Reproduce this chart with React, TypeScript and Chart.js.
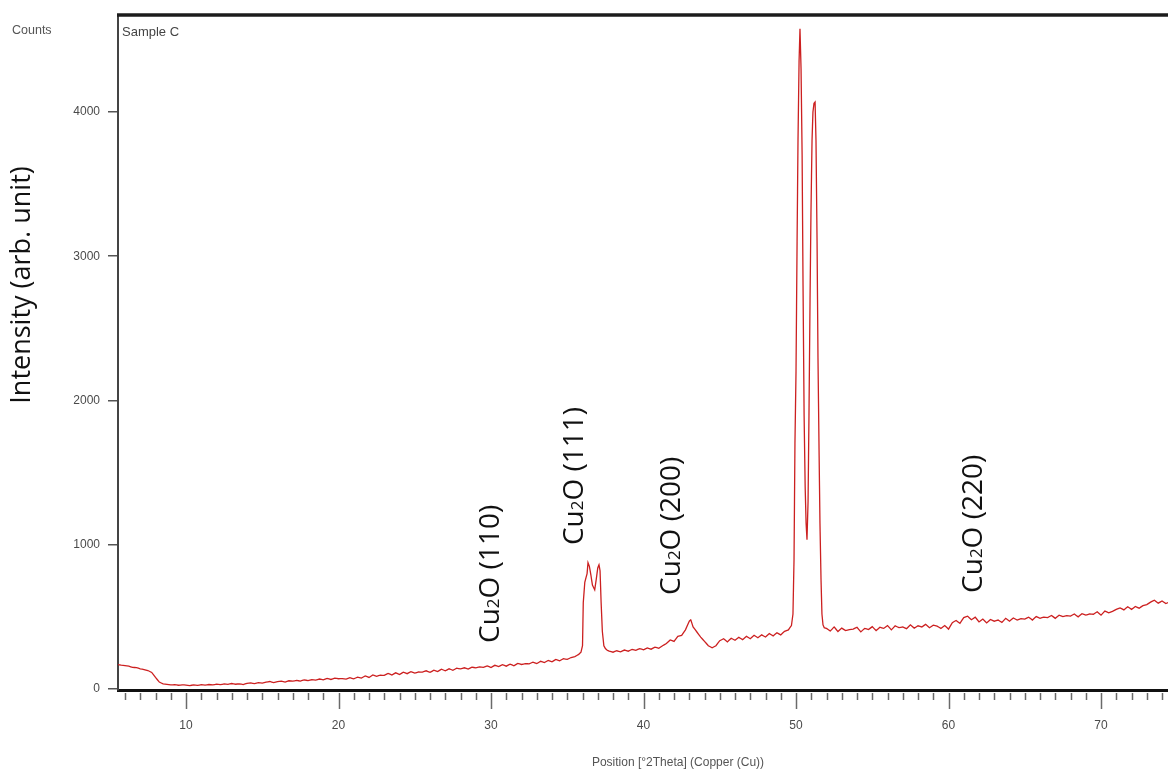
import React, { useEffect, useRef } from "react";
import { Chart, registerables } from "chart.js";

Chart.register(...registerables);

// 2θ positions (degrees)
const twoTheta: number[] = [
  5.5, 5.75, 6.0, 6.25, 6.5, 6.75, 7.0, 7.25, 7.5, 7.75, 8.0, 8.25, 8.5,
  8.75, 9.0, 9.25, 9.5, 9.75, 10.0, 10.25, 10.5, 10.75, 11.0, 11.25, 11.5, 11.75, 12.0, 12.25, 12.5, 12.75, 13.0, 13.25, 13.5, 13.75, 14.0, 14.25, 14.5, 14.75, 15.0,
  15.25, 15.5, 15.75, 16.0, 16.25, 16.5, 16.75, 17.0, 17.25, 17.5, 17.75, 18.0, 18.25, 18.5, 18.75, 19.0, 19.25, 19.5, 19.75, 20.0, 20.25, 20.5, 20.75, 21.0, 21.25, 21.5,
  21.75, 22.0, 22.25, 22.5, 22.75, 23.0, 23.25, 23.5, 23.75, 24.0, 24.25, 24.5, 24.75, 25.0, 25.25, 25.5, 25.75, 26.0, 26.25, 26.5, 26.75, 27.0, 27.25, 27.5, 27.75, 28.0,
  28.25, 28.5, 28.75, 29.0, 29.25, 29.5, 29.75, 30.0, 30.25, 30.5, 30.75, 31.0, 31.25, 31.5, 31.75, 32.0, 32.25, 32.5, 32.75, 33.0, 33.25, 33.5, 33.75, 34.0, 34.25, 34.5,
  34.75, 35.0, 35.25, 35.5, 35.75, 35.9, 36.0, 36.05, 36.15, 36.3, 36.36, 36.45, 36.55, 36.65, 36.8, 36.9, 37.0, 37.08, 37.15, 37.22, 37.3, 37.4, 37.5, 37.6, 37.75,
  38.0, 38.25, 38.5, 38.75, 39.0, 39.25, 39.5, 39.75, 40.0, 40.25, 40.5, 40.75, 41.0, 41.25, 41.5, 41.75, 42.0, 42.25, 42.5, 42.75, 43.0, 43.1, 43.25, 43.5, 43.75, 44.0, 44.25, 44.5, 44.75,
  45.0, 45.25, 45.5, 45.75, 46.0, 46.25, 46.5, 46.75, 47.0, 47.25, 47.5, 47.75, 48.0, 48.25, 48.5, 48.75, 49.0, 49.25, 49.5, 49.7, 49.8,
  49.87, 49.93, 50.0, 50.07, 50.13, 50.2, 50.26, 50.33, 50.4, 50.46, 50.53, 50.6, 50.66, 50.72, 50.79, 50.85, 50.92, 50.98, 51.05, 51.11, 51.18, 51.25, 51.31, 51.38, 51.44, 51.51, 51.57, 51.64, 51.7, 51.77, 51.85,
  52.0, 52.25, 52.5, 52.75, 53.0, 53.25, 53.5, 53.75, 54.0, 54.25, 54.5, 54.75, 55.0, 55.25, 55.5, 55.75, 56.0, 56.25, 56.5, 56.75, 57.0, 57.25, 57.5, 57.75, 58.0, 58.25,
  58.5, 58.75, 59.0, 59.25, 59.5, 59.75, 60.0, 60.25, 60.5, 60.75, 61.0, 61.25, 61.5, 61.75, 62.0, 62.25, 62.5, 62.75, 63.0, 63.25, 63.5, 63.75, 64.0, 64.25, 64.5, 64.75,
  65.0, 65.25, 65.5, 65.75, 66.0, 66.25, 66.5, 66.75, 67.0, 67.25, 67.5, 67.75, 68.0, 68.25, 68.5, 68.75, 69.0, 69.25, 69.5, 69.75, 70.0, 70.25, 70.5, 70.75, 71.0, 71.25,
  71.5, 71.75, 72.0, 72.25, 72.5, 72.75, 73.0, 73.25, 73.5, 73.75, 74.0, 74.25, 74.5, 74.75,
];

// Counts
const counts: number[] = [
  170, 165, 162, 158, 150, 148, 140, 135, 128, 115, 80, 48, 35,
  32, 28, 30, 26, 29, 27, 24, 28, 25, 30, 27, 31, 28, 33, 30, 35, 32, 38, 33, 36, 31, 39, 42, 37, 44, 41,
  47, 52, 44, 51, 55, 48, 57, 54, 59, 55, 63, 58, 64, 62, 69, 63, 73, 66, 75, 71, 72, 68, 78, 70, 82, 76,
  90, 80, 97, 88, 96, 94, 108, 97, 112, 100, 116, 106, 120, 110, 118, 117, 126, 115, 130, 121, 137, 126, 140, 130, 144, 139,
  147, 138, 152, 146, 153, 150, 160, 149, 164, 155, 168, 158, 172, 161, 177, 170, 176, 174, 186, 176, 192, 183, 198, 188, 205, 195,
  210, 205, 218, 225, 240, 255, 300, 600, 740, 800, 875, 850, 790, 720, 688, 760, 840, 861, 820, 600, 400, 300, 280, 270, 262,
  255, 265, 258, 270, 262, 275, 268, 280, 272, 285, 276, 290, 282, 300, 315, 340, 330, 365, 372, 410, 470, 480, 430, 395, 360, 330, 300, 285, 300,
  335, 348, 326, 352, 338, 358, 342, 365, 348, 372, 355, 375, 360, 384, 368, 390, 375, 400, 410, 440, 520,
  900, 1700, 2200, 3100, 3800, 4350, 4576, 4300, 3700, 2800, 1900, 1400, 1150, 1035, 1300, 1900, 2700, 3300, 3800, 4000, 4060, 4069, 3800, 3100, 2300, 1660, 1150, 757, 520, 444, 425,
  420, 402, 430, 398, 422, 405, 412, 415, 428, 396, 420, 412, 432, 405, 428, 420, 440, 410, 438, 425, 430, 418, 445, 422, 438, 430,
  448, 425, 442, 436, 420, 440, 415, 460, 475, 455, 495, 505, 480, 498, 465, 485, 458, 482, 470, 478, 462, 490, 470, 492, 478, 488,
  485, 498, 478, 502, 490, 498, 495, 510, 490, 512, 502, 508, 505, 520, 500, 522, 512, 520, 518, 535, 512, 540, 528, 538, 552, 562,
  548, 570, 552, 572, 560, 578, 585, 602, 615, 595, 610, 592, 604, 598,
];

// Axis ticks
const xTickValues: number[] = [
  6, 7, 8, 9, 10, 11, 12, 13, 14, 15, 16, 17, 18, 19, 20, 21, 22, 23, 24, 25, 26, 27, 28, 29, 30,
  31, 32, 33, 34, 35, 36, 37, 38, 39, 40, 41, 42, 43, 44, 45, 46, 47, 48, 49, 50, 51, 52, 53, 54, 55,
  56, 57, 58, 59, 60, 61, 62, 63, 64, 65, 66, 67, 68, 69, 70, 71, 72, 73, 74, 75, 76,
];
const xLabelValues: number[] = [10, 20, 30, 40, 50, 60, 70];
const yTickValues: number[] = [0, 1000, 2000, 3000, 4000];

// Peak annotations (label, 2θ, counts where the rotated text starts)
const peakLabels: string[] = ["(110)", "(111)", "(200)", "(220)"];
const peakX: number[] = [30.0, 35.5, 41.9, 61.7];
const peakY: number[] = [319, 998, 652, 666];

const X_MIN = 5.541;
const X_MAX = 76.49;
const Y_MIN = -7;
const Y_MAX = 4672;

const overlayPlugin = {
  id: "overlay",
  afterDraw(chart: any) {
    const { ctx, chartArea } = chart;
    const xs = chart.scales.x;
    const ys = chart.scales.y;
    ctx.save();

    // top frame line
    ctx.strokeStyle = "#1c1c1c";
    ctx.lineWidth = 3.5;
    ctx.beginPath();
    ctx.moveTo(chartArea.left - 1, chartArea.top);
    ctx.lineTo(chartArea.right, chartArea.top);
    ctx.stroke();

    // x tick marks (major / minor)
    ctx.strokeStyle = "#6a6a6a";
    ctx.lineWidth = 1.5;
    for (const v of xTickValues) {
      const px = Math.round(xs.getPixelForValue(v)) + 0.5;
      const major = xLabelValues.includes(v);
      ctx.beginPath();
      ctx.moveTo(px, chartArea.bottom + 3);
      ctx.lineTo(px, chartArea.bottom + (major ? 19 : 10));
      ctx.stroke();
    }

    // small texts
    ctx.fillStyle = "#555";
    ctx.font = "12.5px 'Liberation Sans', sans-serif";
    ctx.textBaseline = "middle";
    ctx.textAlign = "left";
    ctx.fillText("Counts", 12, 31);
    ctx.fillStyle = "#444";
    ctx.font = "13px 'Liberation Sans', sans-serif";
    ctx.fillText("Sample C", chartArea.left + 4, 32);
    ctx.fillStyle = "#555";
    ctx.textAlign = "center";
    ctx.font = "12px 'Liberation Sans', sans-serif";
    ctx.fillText("Position [°2Theta] (Copper (Cu))", 678, 763);

    // y title
    ctx.save();
    ctx.translate(22, 285);
    ctx.rotate(-Math.PI / 2);
    ctx.fillStyle = "#111";
    ctx.font = "27px 'Open Sans', sans-serif";
    ctx.textAlign = "center";
    ctx.textBaseline = "middle";
    ctx.fillText("Intensity (arb. unit)", 0, 0);
    ctx.restore();

    // peak annotations
    const big = 28;
    for (let i = 0; i < peakLabels.length; i++) {
      const px = xs.getPixelForValue(peakX[i]);
      const py = ys.getPixelForValue(peakY[i]);
      ctx.save();
      ctx.translate(px, py);
      ctx.rotate(-Math.PI / 2);
      ctx.fillStyle = "#111";
      ctx.textAlign = "left";
      ctx.textBaseline = "middle";
      let cx = 0;
      ctx.font = `${big}px 'Open Sans', sans-serif`;
      ctx.fillText("Cu", cx, 0);
      cx += ctx.measureText("Cu").width;
      ctx.font = `${Math.round(big * 0.62)}px 'Open Sans', sans-serif`;
      ctx.fillText("2", cx, 3);
      cx += ctx.measureText("2").width;
      ctx.font = `${big}px 'Open Sans', sans-serif`;
      ctx.fillText("O " + peakLabels[i], cx, 0);
      ctx.restore();
    }
    ctx.restore();
  },
};

export default function App() {
  const canvasRef = useRef<HTMLCanvasElement | null>(null);

  useEffect(() => {
    if (!canvasRef.current) return;
    const data = twoTheta.map((x, i) => ({ x, y: counts[i] }));
    const chart = new Chart(canvasRef.current, {
      type: "line",
      data: {
        datasets: [
          {
            data,
            borderColor: "#cc2020",
            borderWidth: 1.3,
            pointRadius: 0,
            tension: 0.001,
            fill: false,
          },
        ],
      },
      options: {
        responsive: false,
        animation: false,
        events: [],
        layout: { padding: { top: 15, left: 0, right: 0, bottom: 0 } },
        plugins: { legend: { display: false }, tooltip: { enabled: false } },
        scales: {
          x: {
            type: "linear",
            min: X_MIN,
            max: X_MAX,
            afterFit: (s: any) => {
              s.height = 83;
              s.paddingLeft = 0;
              s.paddingRight = 0;
            },
            afterBuildTicks: (s: any) => {
              s.ticks = xTickValues.map((v) => ({ value: v }));
            },
            grid: { display: false, drawTicks: false },
            border: { display: true, color: "#111", width: 3 },
            ticks: {
              autoSkip: false,
              maxRotation: 0,
              minRotation: 0,
              padding: 28,
              color: "#4a4a4a",
              font: { family: "'Liberation Sans', sans-serif", size: 12 },
              callback: (v: any) => (xLabelValues.includes(Number(v)) ? String(v) : ""),
            },
          },
          y: {
            type: "linear",
            min: Y_MIN,
            max: Y_MAX,
            afterFit: (s: any) => {
              s.width = 118;
              s.paddingTop = 0;
              s.paddingBottom = 0;
            },
            afterBuildTicks: (s: any) => {
              s.ticks = yTickValues.map((v) => ({ value: v }));
            },
            grid: {
              display: true,
              drawOnChartArea: false,
              drawTicks: true,
              tickLength: 10,
              color: "#555",
              lineWidth: 1.5,
            },
            border: { display: true, color: "#444", width: 2 },
            ticks: {
              padding: 8,
              color: "#4a4a4a",
              font: { family: "'Liberation Sans', sans-serif", size: 12 },
              callback: (v: any) => String(v),
            },
          },
        },
      },
      plugins: [overlayPlugin],
    });
    return () => chart.destroy();
  }, []);

  return (
    <div
      style={{
        position: "fixed",
        left: 0,
        top: 0,
        width: 1168,
        height: 773,
        overflow: "hidden",
        background: "#fff",
      }}
    >
      <canvas ref={canvasRef} width={1200} height={773} style={{ display: "block" }} />
    </div>
  );
}
